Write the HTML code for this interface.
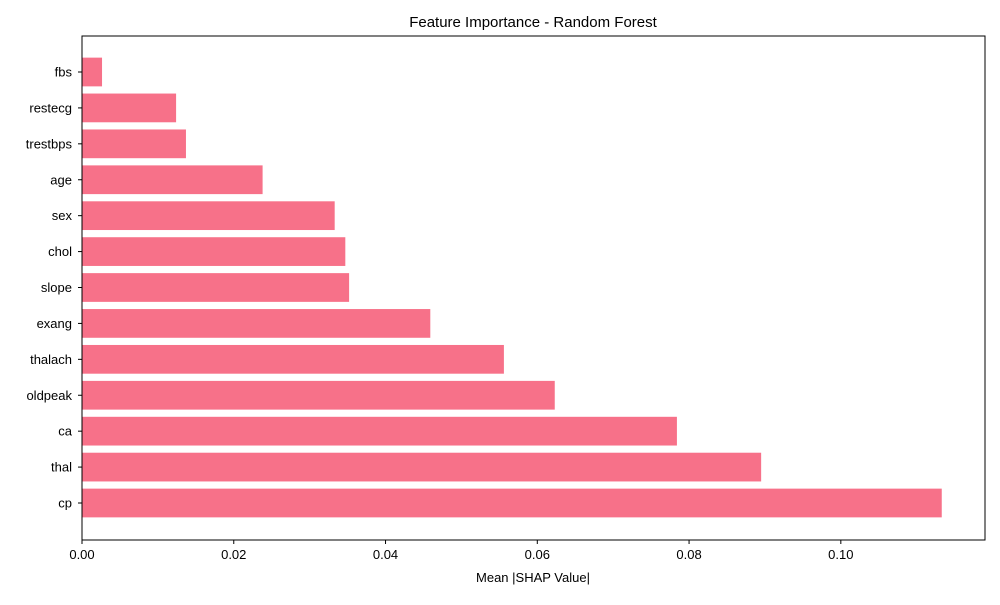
<!DOCTYPE html>
<html><head><meta charset="utf-8"><style>
body{margin:0;background:#fff;font-family:"Liberation Sans",sans-serif}
</style></head><body>
<svg id="chart" width="1000" height="600" xmlns="http://www.w3.org/2000/svg">
<text x="533" y="27" font-size="15" text-anchor="middle">Feature Importance - Random Forest</text>
<g id="bars"></g>
<g id="yticks"></g>
<g id="xticks"></g>
<rect x="82" y="36" width="903" height="504" fill="none" stroke="#000" stroke-width="1"/>
<text x="533" y="582" font-size="13" text-anchor="middle">Mean |SHAP Value|</text>
</svg>
<script>
const features = ["cp","thal","ca","oldpeak","thalach","exang","slope","chol","sex","age","trestbps","restecg","fbs"];
const values = [0.1133,0.0895,0.0784,0.0623,0.0556,0.0459,0.0352,0.0347,0.0333,0.0238,0.0137,0.0124,0.00264];
const xTicks = [0,0.02,0.04,0.06,0.08,0.10];
const xTickLabels = ["0.00","0.02","0.04","0.06","0.08","0.10"];
const NS="http://www.w3.org/2000/svg";
const L=82,R=985,T=36,B=540,XMAX=0.119;
const x=v=>L+(v/XMAX)*(R-L);
const n=features.length;
const yMin=-0.5-0.4, yMax=n-1+0.4+0.5; // approximate matplotlib margins
const step=(503-72)/(n-1);
const y=i=>503-i*step;
const bars=document.getElementById('bars'),yt=document.getElementById('yticks'),xt=document.getElementById('xticks');
features.forEach((f,i)=>{
  const r=document.createElementNS(NS,'rect');
  r.setAttribute('x',x(0));r.setAttribute('y',y(i)-step*0.4);
  r.setAttribute('width',x(values[i])-x(0));r.setAttribute('height',step*0.8);
  r.setAttribute('fill','#f77189');
  
  
  bars.appendChild(r);
  const tk=document.createElementNS(NS,'line');
  tk.setAttribute('x1',L-4);tk.setAttribute('x2',L);tk.setAttribute('y1',y(i));tk.setAttribute('y2',y(i));tk.setAttribute('stroke','#000');
  
  
  yt.appendChild(tk);
  const t=document.createElementNS(NS,'text');
  t.setAttribute('x',L-10);t.setAttribute('y',y(i)+4.5);t.setAttribute('font-size','13');t.setAttribute('text-anchor','end');
  t.textContent=f;
  
  
  yt.appendChild(t);
});
xTicks.forEach((v,i)=>{
  const tk=document.createElementNS(NS,'line');
  tk.setAttribute('x1',x(v));tk.setAttribute('x2',x(v));tk.setAttribute('y1',B);tk.setAttribute('y2',B+4);tk.setAttribute('stroke','#000');
  
  
  xt.appendChild(tk);
  const t=document.createElementNS(NS,'text');
  t.setAttribute('x',x(v));t.setAttribute('y',B+19);t.setAttribute('font-size','13');t.setAttribute('text-anchor','middle');
  t.textContent=xTickLabels[i];
  
  
  xt.appendChild(t);
});
</script>
</body></html>
